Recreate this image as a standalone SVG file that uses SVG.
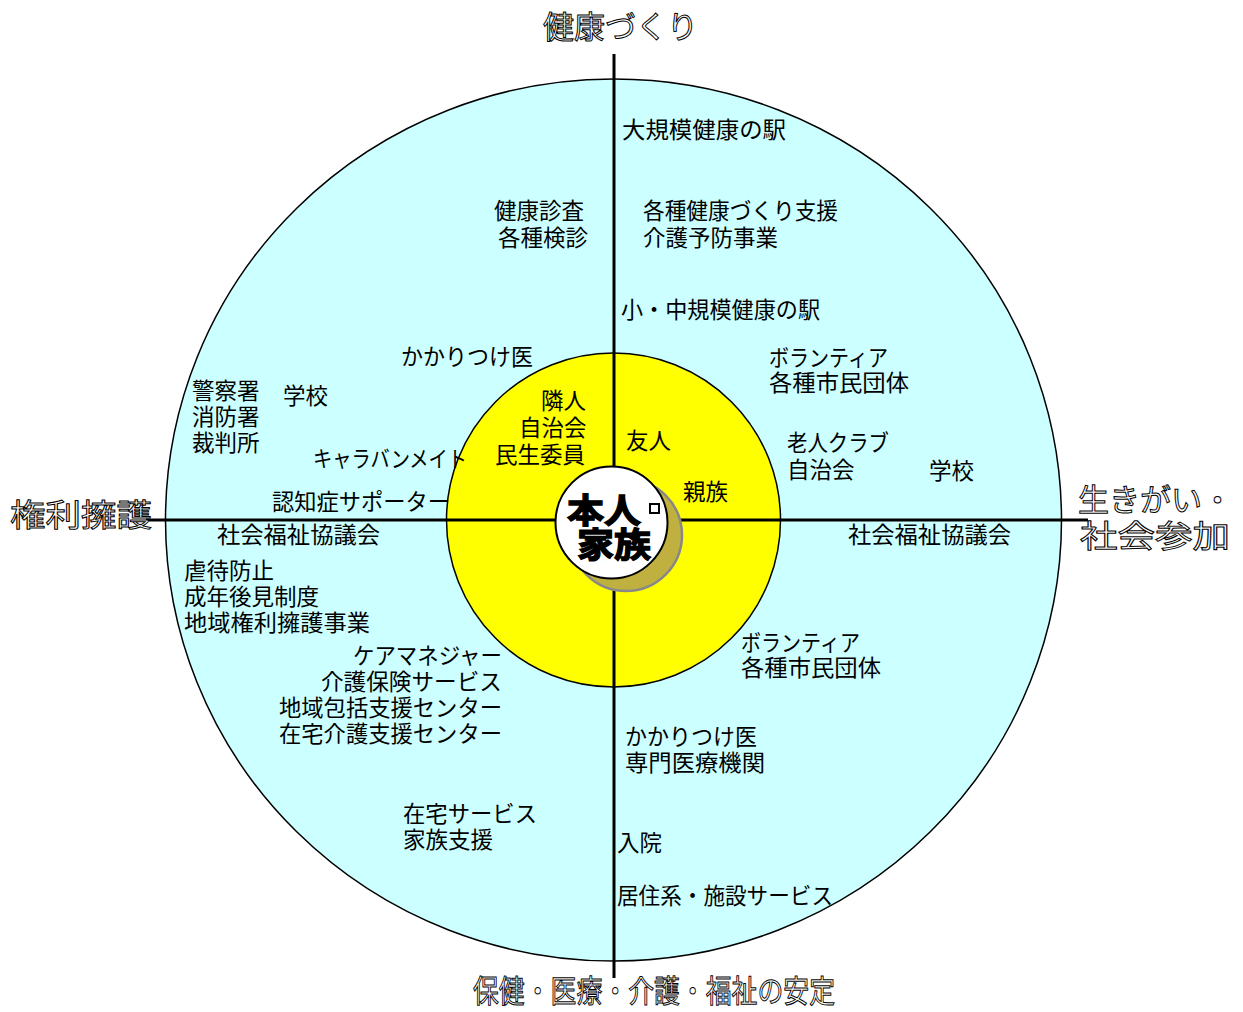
<svg xmlns="http://www.w3.org/2000/svg" width="1243" height="1012" viewBox="0 0 1243 1012">
<style>
.t{font-family:"Noto Sans CJK JP","Noto Sans",sans-serif;font-size:22.5px;fill:#000}
.ax{font-family:"Noto Sans CJK JP","Noto Sans",sans-serif;font-size:31px;fill:#fff;stroke:#000;stroke-width:1px}
.c{font-family:"Noto Sans CJK JP","Noto Sans",sans-serif;font-size:34px;font-weight:bold;fill:#000;stroke:#000;stroke-width:1.4px}
</style>
<rect width="1243" height="1012" fill="#fff"/>
<g id="outer"><ellipse cx="613.5" cy="520" rx="448" ry="441" fill="#CCFFFF" stroke="#000" stroke-width="1.5"/></g>
<g id="inner"><circle cx="613.5" cy="520" r="167" fill="#FFFF00" stroke="#000" stroke-width="1.5"/></g>
<g id="connectors" stroke="#000" stroke-width="3">
<line x1="614" y1="54" x2="614" y2="978"/>
<line x1="146" y1="520" x2="1088" y2="520"/>
</g>
<g id="center">
<circle cx="626" cy="535" r="56" fill="#BFB040" stroke="#888" stroke-width="2.5"/>
<circle cx="611.5" cy="522.5" r="56" fill="#fff" stroke="#000" stroke-width="2"/>
<text class="c" x="567" y="523" textLength="74" lengthAdjust="spacingAndGlyphs">本人</text>
<rect x="650" y="504" width="9" height="9" fill="#fff" stroke="#000" stroke-width="2"/>
<text class="c" x="577" y="557" textLength="74" lengthAdjust="spacingAndGlyphs">家族</text>
</g>
<g id="axis-labels" opacity="0.99">
<text class="ax" x="543" y="38" textLength="155" lengthAdjust="spacingAndGlyphs">健康づくり</text>
<text class="ax" x="10" y="526" textLength="142" lengthAdjust="spacingAndGlyphs">権利擁護</text>
<text class="ax" x="1078" y="511" textLength="155" lengthAdjust="spacingAndGlyphs">生きがい・</text>
<text class="ax" x="1080" y="547" textLength="150" lengthAdjust="spacingAndGlyphs">社会参加</text>
<text class="ax" x="473" y="1002" textLength="362" lengthAdjust="spacingAndGlyphs">保健・医療・介護・福祉の安定</text>
</g>
<g id="labels">
<text class="t" x="622" y="138" textLength="164" lengthAdjust="spacingAndGlyphs">大規模健康の駅</text>
<text class="t" x="494" y="219">健康診査</text>
<text class="t" x="498" y="246">各種検診</text>
<text class="t" x="643" y="219" textLength="195" lengthAdjust="spacingAndGlyphs">各種健康づくり支援</text>
<text class="t" x="643" y="246">介護予防事業</text>
<text class="t" x="621" y="318" textLength="199" lengthAdjust="spacingAndGlyphs">小・中規模健康の駅</text>
<text class="t" x="401" y="365" textLength="132" lengthAdjust="spacingAndGlyphs">かかりつけ医</text>
<text class="t" x="769" y="366" textLength="119" lengthAdjust="spacingAndGlyphs">ボランティア</text>
<text class="t" x="769" y="391" textLength="140" lengthAdjust="spacingAndGlyphs">各種市民団体</text>
<text class="t" x="192" y="399">警察署</text>
<text class="t" x="192" y="425">消防署</text>
<text class="t" x="192" y="451">裁判所</text>
<text class="t" x="283" y="404">学校</text>
<text class="t" x="541" y="409">隣人</text>
<text class="t" x="519" y="436">自治会</text>
<text class="t" x="495" y="463">民生委員</text>
<text class="t" x="626" y="449">友人</text>
<text class="t" x="787" y="451" textLength="102" lengthAdjust="spacingAndGlyphs">老人クラブ</text>
<text class="t" x="787" y="478">自治会</text>
<text class="t" x="929" y="479">学校</text>
<text class="t" x="313" y="467" textLength="154" lengthAdjust="spacingAndGlyphs">キャラバンメイト</text>
<text class="t" x="683" y="500">親族</text>
<text class="t" x="272" y="510" textLength="178" lengthAdjust="spacingAndGlyphs">認知症サポーター</text>
<text class="t" x="217" y="543" textLength="163" lengthAdjust="spacingAndGlyphs">社会福祉協議会</text>
<text class="t" x="848" y="543" textLength="163" lengthAdjust="spacingAndGlyphs">社会福祉協議会</text>
<text class="t" x="184" y="579">虐待防止</text>
<text class="t" x="184" y="605">成年後見制度</text>
<text class="t" x="184" y="631" textLength="186" lengthAdjust="spacingAndGlyphs">地域権利擁護事業</text>
<text class="t" x="353" y="664" textLength="149" lengthAdjust="spacingAndGlyphs">ケアマネジャー</text>
<text class="t" x="321" y="690" textLength="181" lengthAdjust="spacingAndGlyphs">介護保険サービス</text>
<text class="t" x="279" y="716" textLength="223" lengthAdjust="spacingAndGlyphs">地域包括支援センター</text>
<text class="t" x="279" y="742" textLength="223" lengthAdjust="spacingAndGlyphs">在宅介護支援センター</text>
<text class="t" x="741" y="651" textLength="119" lengthAdjust="spacingAndGlyphs">ボランティア</text>
<text class="t" x="741" y="676" textLength="140" lengthAdjust="spacingAndGlyphs">各種市民団体</text>
<text class="t" x="625" y="745" textLength="132" lengthAdjust="spacingAndGlyphs">かかりつけ医</text>
<text class="t" x="625" y="771" textLength="140" lengthAdjust="spacingAndGlyphs">専門医療機関</text>
<text class="t" x="403" y="822" textLength="134" lengthAdjust="spacingAndGlyphs">在宅サービス</text>
<text class="t" x="403" y="848">家族支援</text>
<text class="t" x="617" y="851">入院</text>
<text class="t" x="617" y="904" textLength="216" lengthAdjust="spacingAndGlyphs">居住系・施設サービス</text>
</g>
</svg>
